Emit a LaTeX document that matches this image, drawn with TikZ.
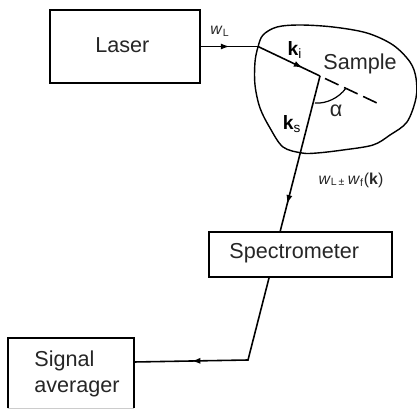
\documentclass[tikz,border=0pt]{standalone}
\usepackage{fontspec}
\setmainfont{Liberation Sans}
\usetikzlibrary{arrows.meta,decorations.markings}
\tikzset{
  box/.style={draw, line width=1.3pt, inner sep=0pt},
  beam/.style={line width=0.9pt},
  midarrow/.style={postaction={decorate, decoration={markings,
      mark=at position #1 with {\arrow{Latex[length=5pt,width=3.5pt]}}}}},
  lbl/.style={font=\fontsize{12.3}{14.7}\selectfont, inner sep=0pt, text=black!85},
  small/.style={font=\fontsize{9}{11}\selectfont, inner sep=0pt, text=black!85},
  bold/.style={font=\fontsize{11}{13}\selectfont\bfseries, inner sep=0pt},
}
\begin{document}
\begin{tikzpicture}[x=0.02cm, y=-0.02cm]
  \useasboundingbox (0,0) rectangle (417,409);

  % Instruments
  \node[box, minimum width=150*0.02cm, minimum height=73*0.02cm] (laser) at (125,46.5) {};
  \node[box, minimum width=183*0.02cm, minimum height=45*0.02cm] (spectrometer) at (300.5,254.5) {};
  \node[minimum width=126*0.02cm, minimum height=70*0.02cm, inner sep=0pt] (averager) at (71,373) {};
  \draw[line width=1.3pt] (averager.south west) |- (averager.north east) -- (averager.south east);
  \draw[line width=0.8pt, black!20] (averager.south west) -- (averager.south east);

  \node[lbl, anchor=base west] (lasertext) at (95,52) {Laser};
  \node[lbl, anchor=base west] (spectext) at (229,259) {Spectrometer};
  \node[lbl, anchor=base west] (signaltext) at (34,367) {Signal};
  \node[lbl, anchor=base west] (avgtext) at (34,393) {averager};

  % Sample outline
  \draw[line width=0.8pt] plot[smooth cycle, tension=0.55] coordinates {
    (258,47) (263,35) (277,27) (300,25) (333,27) (367,33) (393,45) (410,62)
    (416,78) (416,98) (407,122) (390,135) (373,145) (343,150) (317,153)
    (302,153) (283,147) (270,128) (260,108) (255,85) (255,62)};

  % Beam path
  \coordinate (entry) at (258,46.5);
  \coordinate (focus) at (320,76);
  \coordinate (dashstart) at (325,78.5);
  \coordinate (dashend) at (377,103);
  \coordinate (specin) at (280,232);
  \coordinate (specout) at (269,278);
  \coordinate (corner) at (248,360);
  \coordinate (avgin) at (134,362);

  \draw[beam, midarrow=0.5] (laser.east) -- (entry);
  \draw[beam, midarrow=0.72] (entry) -- (focus);
  \draw[beam, midarrow=0.82] (focus) -- (specin);
  \draw[beam, midarrow=0.71] (specout) -- (corner) -- (avgin);
  \draw[beam, dash pattern=on 8.5pt off 3.5pt] (dashstart) -- (dashend);

  % Angle
  \draw[line width=0.7pt] (315,103) .. controls (326,104) and (339,98) .. (346,88);

  % Labels
  \node[small] (wl) at (220,31) {\textit{w}\textsubscript{L}};
  \node[bold] (ki) at (295,50) {k\textsubscript{\normalfont i}};
  \node[lbl, anchor=base west] (sample) at (323,70) {Sample};
  \node[bold] (ks) at (292,124) {k\textsubscript{\normalfont s}};
  \node[lbl] (alpha) at (336,111) {α};
  \node[small] (wlf) at (351,180) {\textit{w}\textsubscript{L\,±}\,\textit{w}\textsubscript{f}(\textbf{k})};
\end{tikzpicture}
\end{document}
